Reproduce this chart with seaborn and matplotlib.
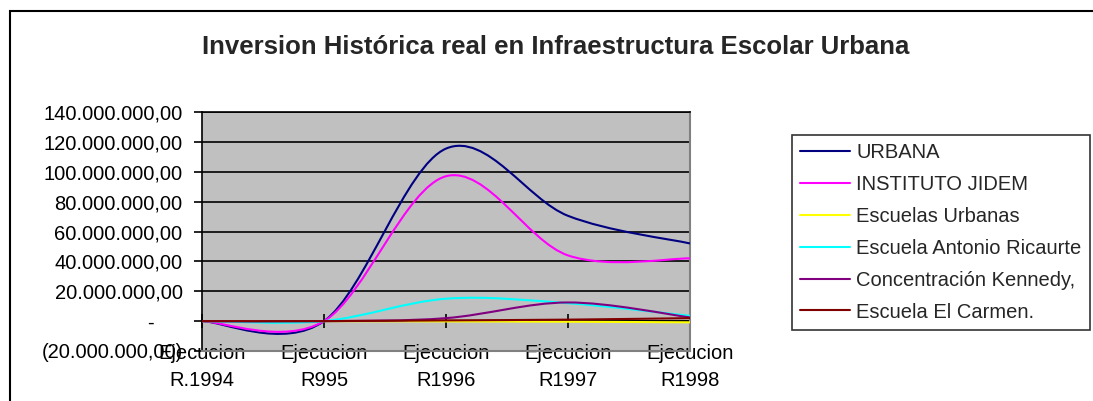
import matplotlib
matplotlib.use("Agg")
import matplotlib.pyplot as plt
import numpy as np
import pandas as pd
import seaborn as sns
from matplotlib.path import Path
from matplotlib.patches import PathPatch, Rectangle
from matplotlib.lines import Line2D
from matplotlib.ticker import FuncFormatter

# ---------------- data ----------------
categories = ["Ejecucion\nR.1994", "Ejecucion\nR995", "Ejecucion\nR1996",
              "Ejecucion\nR1997", "Ejecucion\nR1998"]
series_names = ["URBANA", "INSTITUTO JIDEM", "Escuelas Urbanas",
                "Escuela Antonio Ricaurte", "Concentración Kennedy,",
                "Escuela El Carmen."]
urbana = [0, 0, 115.5e6, 70.5e6, 52e6]
jidem = [0, 0, 97e6, 44e6, 42e6]
escuelas_urbanas = [0, 0, -0.2e6, -0.4e6, -0.8e6]
ricaurte = [0, 0, 15e6, 12e6, 3.5e6]
kennedy = [0, 0, 2e6, 12.5e6, 2.5e6]
carmen = [0, 0, 0.5e6, 1.0e6, 2.0e6]
series_values = [urbana, jidem, escuelas_urbanas, ricaurte, kennedy, carmen]
colors = ["#000080", "#FF00FF", "#FFFF00", "#00FFFF", "#800080", "#800000"]
title = "Inversion Histórica real en Infraestructura Escolar Urbana"

rows = []
for name, vals in zip(series_names, series_values):
    for i, v in enumerate(vals):
        rows.append({"x": i, "value": v, "serie": name})
df = pd.DataFrame(rows)

# ---------------- style ----------------
sns.set_style("white")
plt.rcParams["font.family"] = ["Liberation Sans", "DejaVu Sans"]
FS = 14.5

W, H = 1093, 401
fig, ax = plt.subplots(figsize=(W / 100, H / 100), dpi=100)
fig.subplots_adjust(left=202 / W, right=690 / W, top=1 - 112 / H, bottom=1 - 351 / H)
ax.set_facecolor("#C0C0C0")

sns.lineplot(data=df, x="x", y="value", hue="serie", hue_order=series_names,
             palette=colors, legend=False, ax=ax, linewidth=1.5)


def smooth_path(xs, ys):
    pts = list(zip(xs, ys))
    n = len(pts)
    verts = [pts[0]]
    codes = [Path.MOVETO]
    for i in range(n - 1):
        p0 = pts[max(i - 1, 0)]
        p1 = pts[i]
        p2 = pts[i + 1]
        p3 = pts[min(i + 2, n - 1)]
        c1 = (p1[0] + (p2[0] - p0[0]) / 6, p1[1] + (p2[1] - p0[1]) / 6)
        c2 = (p2[0] - (p3[0] - p1[0]) / 6, p2[1] - (p3[1] - p1[1]) / 6)
        verts += [c1, c2, p2]
        codes += [Path.CURVE4] * 3
    return Path(verts, codes)


# Excel-style smoothed rendering of each seaborn line
for line in list(ax.lines):
    xs, ys = line.get_xdata(), line.get_ydata()
    col = line.get_color()
    patch = PathPatch(smooth_path(xs, ys), fill=False, edgecolor=col,
                      linewidth=1.5, transform=ax.transData, zorder=3)
    ax.add_patch(patch)
    line.remove()

ax.set_xlim(0, len(categories) - 1)
ax.set_ylim(-20e6, 140e6)
yt = np.arange(-20e6, 140e6 + 1, 20e6)
ax.set_yticks(yt)


def fmt(v, pos):
    if abs(v) < 1:
        return "-     "
    s = f"{abs(v):,.2f}".replace(",", "X").replace(".", ",").replace("X", ".")
    return f"({s})" if v < 0 else s


ax.yaxis.set_major_formatter(FuncFormatter(fmt))
ax.tick_params(axis="y", direction="out", length=6, width=1.2, pad=8,
               labelsize=FS, colors="black", left=True)
ax.set_xlabel("")
ax.set_ylabel("")
ax.set_xticks(range(len(categories)))
ax.tick_params(axis="x", bottom=False, labelbottom=False)

ax.yaxis.grid(True, color="black", linewidth=1.2)
ax.xaxis.grid(False)
ax.set_axisbelow(True)
ax.get_ygridlines()[0].set_visible(False)

ax.spines["left"].set_color("black")
ax.spines["left"].set_linewidth(1.2)
ax.spines["top"].set_color("black")
ax.spines["top"].set_linewidth(1.2)
for s in ("right", "bottom"):
    ax.spines[s].set_color("#808080")
    ax.spines[s].set_linewidth(1.5)

# category axis crossing at zero
secax = ax.secondary_xaxis(20 / 160)
secax.set_xticks(range(len(categories)))
secax.set_xticklabels(categories, fontsize=FS, linespacing=1.5)
secax.tick_params(direction="inout", length=10, width=1.2, pad=11.5, colors="black")
secax.spines["bottom"].set_color("black")
secax.spines["bottom"].set_linewidth(1.2)

# legend
handles = [Line2D([], [], color=c, linewidth=1.5) for c in colors]
leg = ax.legend(handles, series_names, loc="upper left",
                bbox_to_anchor=(792 / W, 1 - 135 / H), bbox_transform=fig.transFigure,
                borderaxespad=0, borderpad=0.4, handlelength=2.5, handletextpad=0.3,
                labelspacing=0.64, fontsize=FS, frameon=True, fancybox=False)
leg.get_frame().set_edgecolor("black")
leg.get_frame().set_linewidth(1.2)

fig.text(556 / W, 1 - 47 / H, title, ha="center", va="center",
         fontsize=18.5, fontweight="bold")

fig.add_artist(Rectangle((10 / W, -0.1), 1.0, 1 - 11 / H + 0.1,
                         transform=fig.transFigure, fill=False,
                         edgecolor="black", linewidth=1.5, clip_on=False))

fig.savefig("out.png", dpi=100)
